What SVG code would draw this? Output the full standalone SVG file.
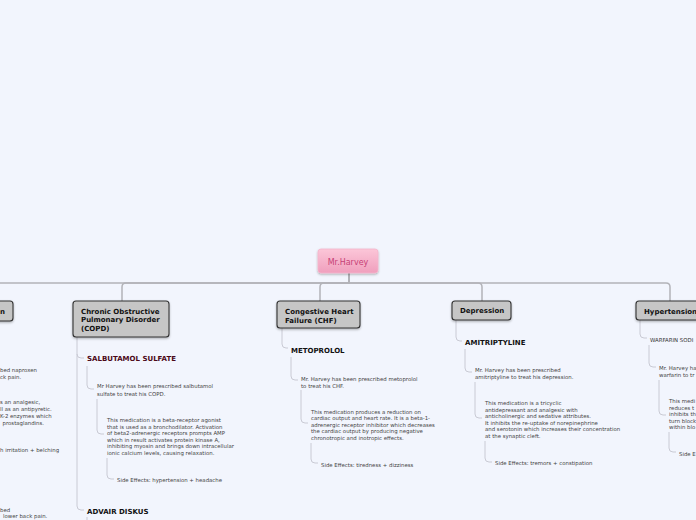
<svg xmlns="http://www.w3.org/2000/svg" width="696" height="520" viewBox="0 0 696 520">
<defs>
<linearGradient id="pink" x1="0" y1="0" x2="0" y2="1">
<stop offset="0" stop-color="#fcc6d8"/>
<stop offset="1" stop-color="#f09fbd"/>
</linearGradient>
<filter id="sh" x="-20%" y="-20%" width="140%" height="160%">
<feDropShadow dx="0" dy="1.2" stdDeviation="0.8" flood-color="#000" flood-opacity="0.3"/>
</filter>
</defs>
<style>
.box{fill:#c6c6c6;stroke:#333;stroke-width:1.1}
.bl{font-family:"DejaVu Sans",Verdana,sans-serif;font-weight:bold;font-size:7px;fill:#111}
.drug{font-family:"DejaVu Sans",Verdana,sans-serif;font-weight:bold;font-size:7px;fill:#111}
.t{font-family:"DejaVu Sans",Verdana,sans-serif;font-size:5.4px;fill:#444}
.c{fill:none;stroke:#c9cad4;stroke-width:1}
.m{fill:none;stroke:#b2b3b8;stroke-width:1.5}
</style>
<rect x="0" y="0" width="696" height="520" fill="#f2f5fd"/>

<g id="connectors">
<path class="m" d="M349,273 V283 H-40"/>
<path class="m" d="M349,273 V283 H126 Q122,283 122,287 V301"/>
<path class="m" d="M349,273 V283 H324 Q320,283 320,287 V301"/>
<path class="m" d="M349,273 V283 H478 Q482,283 482,287 V301"/>
<path class="m" d="M349,273 V283 H666 Q670,283 670,287 V301"/>
<!-- COPD -->
<path class="c" d="M77,337 V506 Q77,510 81,510 H84"/>
<path class="c" d="M77,354 Q77,358 81,358 H84"/>
<path class="c" d="M87,366 V385 Q87,389 91,389 H94"/>
<path class="c" d="M97,399 V430 Q97,434 101,434 H104"/>
<path class="c" d="M107,458 V475 Q107,479 111,479 H114"/>
<path class="c" d="M87,517 V525"/>
<!-- CHF -->
<path class="c" d="M282,328 V344 Q282,348 286,348 H288"/>
<path class="c" d="M291,357 V376 Q291,380 295,380 H298"/>
<path class="c" d="M301,390 V419 Q301,423 305,423 H308"/>
<path class="c" d="M311,443 V459 Q311,463 315,463 H318"/>
<!-- Depression -->
<path class="c" d="M456,320 V337 Q456,341 460,341 H462"/>
<path class="c" d="M465,349 V368 Q465,372 469,372 H472"/>
<path class="c" d="M475,382 V414 Q475,418 479,418 H482"/>
<path class="c" d="M485,441 V458 Q485,462 489,462 H492"/>
<!-- Hypertension -->
<path class="c" d="M640,320 V334 Q640,338 644,338 H647"/>
<path class="c" d="M649,345 V363 Q649,367 653,367 H656"/>
<path class="c" d="M659,380 V411 Q659,415 663,415 H666"/>
<path class="c" d="M669,432 V448 Q669,452 673,452 H676"/>
</g>

<g id="root">
<rect x="318" y="249" width="60" height="24" rx="3" fill="url(#pink)" stroke="#f5b5cb" stroke-width="0.8" filter="url(#sh)"/>
<text x="348" y="264.5" text-anchor="middle" font-family="DejaVu Sans, Verdana, sans-serif" font-size="8" fill="#c63f76">Mr.Harvey</text>
</g>

<g id="left-node">
<rect class="box" x="-60" y="301" width="73" height="20" rx="3" filter="url(#sh)"/>
<text class="bl" x="0" y="313.5">n</text>
<text class="t" x="0" y="372">bed naproxen</text>
<text class="t" x="0" y="379">ck pain.</text>
<text class="t" x="0" y="404">s an analgesic,</text>
<text class="t" x="0" y="411">ll as an antipyretic.</text>
<text class="t" x="0" y="418">K-2 enzymes which</text>
<text class="t" x="2.5" y="425">prostaglandins.</text>
<text class="t" x="0" y="452">h irritation + belching</text>
<text class="t" x="0" y="512">bed</text>
<text class="t" x="3" y="518">lower back pain.</text>
</g>

<g id="copd">
<rect class="box" x="73" y="301" width="96" height="36" rx="3" filter="url(#sh)"/>
<text class="bl" x="81" y="313.5">Chronic Obstructive</text>
<text class="bl" x="81" y="322">Pulmonary Disorder</text>
<text class="bl" x="81" y="330.5">(COPD)</text>
</g>
<g id="salbutamol">
<text class="drug" x="87" y="360.5" style="fill:#4b0818">SALBUTAMOL SULFATE</text>
</g>
<g id="salbutamol-rx">
<text class="t" x="97" y="388">Mr Harvey has been prescribed salbutamol</text>
<text class="t" x="97" y="396">sulfate to treat his COPD.</text>
</g>
<g id="salbutamol-desc">
<text class="t" x="107" y="422">This medication is a beta-receptor agonist</text>
<text class="t" x="107" y="428.5">that is used as a bronchodilator. Activation</text>
<text class="t" x="107" y="435">of beta2-adrenergic receptors prompts AMP</text>
<text class="t" x="107" y="441.5">which in result activates protein kinase A,</text>
<text class="t" x="107" y="448">inhibiting myosin and brings down intracellular</text>
<text class="t" x="107" y="454.5">ionic calcium levels, causing relaxation.</text>
</g>
<g id="salbutamol-se">
<text class="t" x="117" y="482">Side Effects: hypertension + headache</text>
</g>
<g id="advair">
<text class="drug" x="87" y="513.5">ADVAIR DISKUS</text>
</g>

<g id="chf">
<rect class="box" x="277" y="301" width="83" height="27" rx="3" filter="url(#sh)"/>
<text class="bl" x="285" y="313.5">Congestive Heart</text>
<text class="bl" x="285" y="322.5">Failure (CHF)</text>
</g>
<g id="metoprolol">
<text class="drug" x="291" y="352.5">METOPROLOL</text>
</g>
<g id="metoprolol-rx">
<text class="t" x="301" y="381">Mr. Harvey has been prescribed metoprolol</text>
<text class="t" x="301" y="387.5">to treat his CHF.</text>
</g>
<g id="metoprolol-desc">
<text class="t" x="311" y="413.5">This medication produces a reduction on</text>
<text class="t" x="311" y="420">cardiac output and heart rate. It is a beta-1-</text>
<text class="t" x="311" y="426.5">adrenergic receptor inhibitor which decreases</text>
<text class="t" x="311" y="433">the cardiac output by producing negative</text>
<text class="t" x="311" y="439.5">chronotropic and inotropic effects.</text>
</g>
<g id="metoprolol-se">
<text class="t" x="321" y="467">Side Effects: tiredness + dizziness</text>
</g>

<g id="depression">
<rect class="box" x="452" y="301" width="59" height="19" rx="3" filter="url(#sh)"/>
<text class="bl" x="460" y="313">Depression</text>
</g>
<g id="amitriptyline">
<text class="drug" x="465" y="345">AMITRIPTYLINE</text>
</g>
<g id="amitriptyline-rx">
<text class="t" x="475" y="372">Mr. Harvey has been prescribed</text>
<text class="t" x="475" y="379">amitriptyline to treat his depression.</text>
</g>
<g id="amitriptyline-desc">
<text class="t" x="485" y="405">This medication is a tricyclic</text>
<text class="t" x="485" y="411.5">antidepressant and analgesic with</text>
<text class="t" x="485" y="418">anticholinergic and sedative attributes.</text>
<text class="t" x="485" y="424.5">It inhibits the re-uptake of norepinephrine</text>
<text class="t" x="485" y="431">and serotonin which increases their concentration</text>
<text class="t" x="485" y="437.5">at the synaptic cleft.</text>
</g>
<g id="amitriptyline-se">
<text class="t" x="495" y="465">Side Effects: tremors + constipation</text>
</g>

<g id="hypertension">
<rect class="box" x="636" y="301" width="70" height="19" rx="3" filter="url(#sh)"/>
<text class="bl" x="644" y="313.5">Hypertension</text>
</g>
<g id="warfarin">
<text class="t" x="650" y="342" style="fill:#333">WARFARIN SODI</text>
</g>
<g id="warfarin-rx">
<text class="t" x="659" y="370">Mr. Harvey ha</text>
<text class="t" x="659" y="377">warfarin to tr</text>
</g>
<g id="warfarin-desc">
<text class="t" x="669" y="403">This medi</text>
<text class="t" x="669" y="409.5">reduces t</text>
<text class="t" x="669" y="416">inhibits th</text>
<text class="t" x="669" y="422.5">turn block</text>
<text class="t" x="669" y="429">within blo</text>
</g>
<g id="warfarin-se">
<text class="t" x="679" y="456">Side E</text>
</g>
</svg>
